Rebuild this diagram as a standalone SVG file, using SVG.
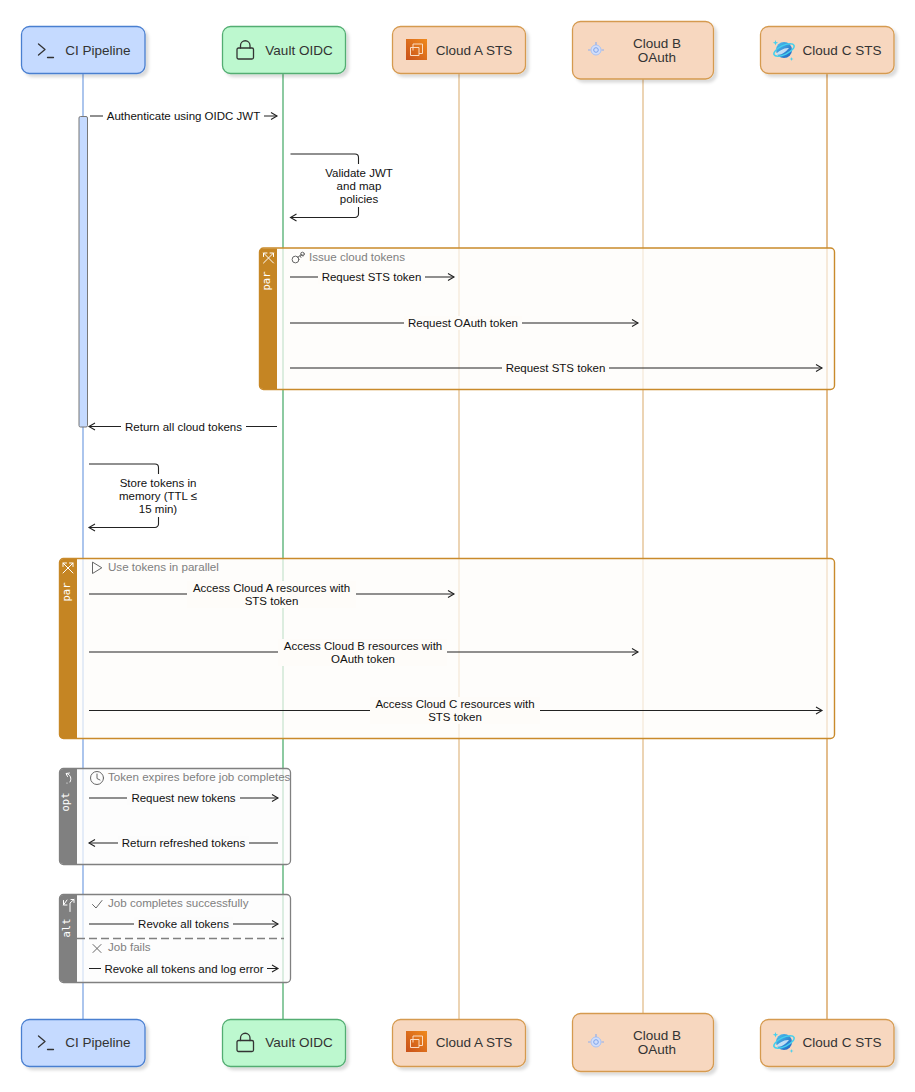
<svg xmlns="http://www.w3.org/2000/svg" width="915" height="1092" viewBox="0 0 915 1092">
<style>
text{font-family:"Liberation Sans",Arial,sans-serif}
.n{font-size:13.5px;fill:#333;text-anchor:middle}
.m{font-size:11.5px;fill:#111;text-anchor:middle}
.f{font-size:11.6px;fill:#808080}
.tab{font-family:"DejaVu Sans Mono","Liberation Mono",monospace;font-size:10.5px;fill:#fff;text-anchor:middle}
.box{stroke-width:1.3}
.blue{fill:#c5daff;stroke:#4a7fd0}
.green{fill:#bdf8cf;stroke:#52ad72}
.orange{fill:#f7d7bf;stroke:#d59a4f}
.ll{fill:none;stroke-width:1.3}
.msg{fill:none;stroke:#222;stroke-width:1.1}
.ico{fill:none;stroke:#333;stroke-width:1.3;stroke-linecap:round;stroke-linejoin:round}
.fi{fill:none;stroke:#666;stroke-width:1;stroke-linecap:round;stroke-linejoin:round}
.ti{fill:none;stroke:#fff;stroke-width:1;stroke-linecap:round;stroke-linejoin:round}
.bgp{fill:#fefcf9}
.bgg{fill:#fcfcfc}
</style>
<defs>
<filter id="sh" x="-10%" y="-10%" width="125%" height="130%"><feDropShadow dx="3" dy="3" stdDeviation="1.5" flood-color="#000" flood-opacity="0.14"/></filter>
<marker id="a" markerWidth="10" markerHeight="10" refX="8" refY="5" orient="auto-start-reverse" markerUnits="userSpaceOnUse"><path d="M2 1.500 8 5 2 8.500" fill="none" stroke="#222" stroke-width="1.1"/></marker>
<linearGradient id="aws" x1="0" y1="1" x2="1" y2="0"><stop offset="0" stop-color="#c8511b"/><stop offset="1" stop-color="#f08a1d"/></linearGradient>
<linearGradient id="az" x1="0" y1="0" x2="1" y2="1"><stop offset="0" stop-color="#4fc3f0"/><stop offset="1" stop-color="#1f5fc0"/></linearGradient>
<g id="iTerm"><path class="ico" d="M0 0 6.500 5.500 0 11M9 13.500H15"/></g>
<g id="iLock"><rect class="ico" x="0" y="8" width="16.500" height="11" rx="1.500"/><path class="ico" d="M3.500 8V5.500a4.750 4.750 0 0 1 9.500 0V8"/></g>
<g id="iA"><rect width="21" height="21" fill="url(#aws)"/><path d="M7 11.500V5h9.500v9.500H13M4.500 8.500V16.500h8.500V8.500Z" fill="none" stroke="#fbdcc2" stroke-width="1"/></g>
<g id="iB"><circle cx="9" cy="9" r="5" fill="#d2defa" stroke="#a9c3f5"/><circle cx="9" cy="9" r="2.300" fill="none" stroke="#7da3ea"/><path d="M9 1V4M1 9H3.500M14.500 9H17" stroke="#8fb0ef" stroke-width="1.200"/></g>
<g id="iC"><circle cx="10" cy="10" r="8" fill="url(#az)"/><ellipse cx="10" cy="10" rx="11" ry="4.500" transform="rotate(-25 10 10)" fill="none" stroke="#44d0ee" stroke-width="1.500"/><path d="M2 14c4 2 9-1 13-6-4 0-8 1-13 6Z" fill="#fff" opacity=".7"/><path d="M1.500 0l.7 2 2 .7-2 .7-.7 2-.7-2-2-.7 2-.7ZM17.500 17l.5 1.500 1.500.5-1.500.5-.5 1.500-.5-1.500-1.500-.5 1.500-.5Z" fill="#44d0ee"/></g>
<g id="iX"><path class="ti" d="M1 1 11 11M1 11 11 1M1 4.500V1H4.500M7.500 1H11V4.500"/></g>
</defs>

<g id="lifelines">
<path class="ll" stroke="#7fa6e4" d="M83 73V1019"/>
<path class="ll" stroke="#4fae6f" d="M283 73V1019"/>
<path class="ll" stroke="#e2bd8c" d="M459 73V1019"/>
<path class="ll" stroke="#e2bd8c" d="M643 79V1013"/>
<path class="ll" stroke="#d59a4f" d="M827 73V1019"/>
</g>

<g id="frame-issue">
<rect x="259.500" y="248" width="575" height="141.500" rx="4" fill="#fefcf9" fill-opacity=".7" stroke="#c98a2b" stroke-width="1.400"/>
<path d="M277 248.500H263.500a4 4 0 0 0-4 4V385a4 4 0 0 0 4 4H277Z" fill="#c58523"/>
<use href="#iX" x="262.500" y="252"/>
<text class="tab" transform="translate(270,281) rotate(-90)">par</text>
<path class="fi" d="M297.500 257.500l4-3M300 256l1 1.500M302 254.500l1 1.500"/><circle class="fi" cx="295.500" cy="259.500" r="3.400"/><circle class="fi" cx="302.500" cy="254" r="1.800"/>
<text class="f" x="309" y="260.500">Issue cloud tokens</text>
</g>
<g id="frame-use">
<rect x="59.500" y="558.500" width="775" height="180" rx="4" fill="#fefcf9" fill-opacity=".7" stroke="#c98a2b" stroke-width="1.400"/>
<path d="M77 559H63.500a4 4 0 0 0-4 4V734.500a4 4 0 0 0 4 4H77Z" fill="#c58523"/>
<use href="#iX" x="62" y="562"/>
<text class="tab" transform="translate(69.500,592) rotate(-90)">par</text>
<path class="fi" d="M92.500 562.500V573.500L101.500 568Z"/>
<text class="f" x="108" y="570.500">Use tokens in parallel</text>
</g>
<g id="frame-expire">
<rect x="59.500" y="768.500" width="231" height="96" rx="4" fill="#fcfcfc" fill-opacity=".7" stroke="#808080" stroke-width="1.300"/>
<path d="M77 769H63.500a4 4 0 0 0-4 4V860a4 4 0 0 0 4 4H77Z" fill="#808080"/>
<path class="ti" d="M66.500 773.500c4 1 5.500 5 3.500 8.500M69.500 773l-3.500.5 1.500 3"/><circle cx="67" cy="783" r=".6" fill="#fff"/>
<text class="tab" transform="translate(69,802) rotate(-90)">opt</text>
<circle class="fi" cx="97" cy="778" r="6.500"/><path class="fi" d="M97 774V778.500L100 780"/>
<text class="f" x="108" y="781">Token expires before job completes</text>
</g>
<g id="frame-job">
<rect x="59.500" y="894.500" width="231" height="88" rx="4" fill="#fcfcfc" fill-opacity=".7" stroke="#808080" stroke-width="1.300"/>
<path d="M77 895H63.500a4 4 0 0 0-4 4V978a4 4 0 0 0 4 4H77Z" fill="#808080"/>
<path class="ti" d="M63.500 905 67 900M63.500 900.500V905H67M74 899.500 70 903V911.500M71 899.500H74V902.500"/>
<text class="tab" transform="translate(69.500,928) rotate(-90)">alt</text>
<path d="M77 938.500H284" fill="none" stroke="#808080" stroke-width="1.300" stroke-dasharray="8 4"/>
<path class="fi" d="M92.500 904.500 96 908 102 900.500"/>
<text class="f" x="108" y="906.500">Job completes successfully</text>
<path class="fi" d="M93 944.500 101 952.500M101 944.500 93 952.500"/>
<text class="f" x="108" y="951">Job fails</text>
</g>

<g id="activation"><rect x="79" y="116.500" width="8.500" height="310.500" rx="1.500" fill="#c5daff" stroke="#777" stroke-width="1"/></g>

<g id="connectors">
<path class="msg" marker-end="url(#a)" d="M90 116H277"/>
<rect fill="#fff" x="103" y="109" width="161" height="14"/>
<text class="m" x="183.500" y="120">Authenticate using OIDC JWT</text>

<path class="msg" marker-end="url(#a)" d="M290.500 154H355a3.500 3.500 0 0 1 3.500 3.500V214a3.500 3.500 0 0 1-3.500 3.500H290.500"/>
<rect fill="#fff" x="321" y="164" width="75" height="43"/>
<text class="m" x="359" y="176.500">Validate JWT</text>
<text class="m" x="359" y="189.500">and map</text>
<text class="m" x="359" y="202.500">policies</text>

<path class="msg" marker-end="url(#a)" d="M290 277H454"/>
<rect class="bgp" x="318" y="270" width="107" height="14"/>
<text class="m" x="371.500" y="281">Request STS token</text>
<path class="msg" marker-end="url(#a)" d="M290 323H638"/>
<rect class="bgp" x="404" y="316" width="118" height="14"/>
<text class="m" x="463" y="327">Request OAuth token</text>
<path class="msg" marker-end="url(#a)" d="M290 368H822"/>
<rect class="bgp" x="502" y="361" width="107" height="14"/>
<text class="m" x="555.500" y="372">Request STS token</text>

<path class="msg" marker-end="url(#a)" d="M277 426.500H89"/>
<rect fill="#fff" x="121" y="419" width="125" height="14"/>
<text class="m" x="183.500" y="430.500">Return all cloud tokens</text>

<path class="msg" marker-end="url(#a)" d="M89 464H155a3.500 3.500 0 0 1 3.500 3.500V524a3.500 3.500 0 0 1-3.500 3.500H89"/>
<rect fill="#fff" x="112" y="474" width="92" height="43"/>
<text class="m" x="158" y="487">Store tokens in</text>
<text class="m" x="158" y="500">memory (TTL ≤</text>
<text class="m" x="158" y="513">15 min)</text>

<path class="msg" marker-end="url(#a)" d="M89 594H454"/>
<rect class="bgp" x="187" y="581" width="169" height="27"/>
<text class="m" x="271.500" y="592">Access Cloud A resources with</text>
<text class="m" x="271.500" y="604.500">STS token</text>
<path class="msg" marker-end="url(#a)" d="M89 652H638"/>
<rect class="bgp" x="278" y="639" width="169" height="27"/>
<text class="m" x="363" y="650">Access Cloud B resources with</text>
<text class="m" x="363" y="662.500">OAuth token</text>
<path class="msg" marker-end="url(#a)" d="M89 710.500H822"/>
<rect class="bgp" x="370" y="697" width="170" height="27"/>
<text class="m" x="455" y="708">Access Cloud C resources with</text>
<text class="m" x="455" y="720.500">STS token</text>

<path class="msg" marker-end="url(#a)" d="M89 798H278"/>
<rect class="bgg" x="127" y="791" width="113" height="14"/>
<text class="m" x="183.500" y="802">Request new tokens</text>
<path class="msg" marker-end="url(#a)" d="M278 843H89"/>
<rect class="bgg" x="118" y="836" width="131" height="14"/>
<text class="m" x="183.500" y="847">Return refreshed tokens</text>
<path class="msg" marker-end="url(#a)" d="M89 924H278"/>
<rect class="bgg" x="134" y="917" width="99" height="14"/>
<text class="m" x="183.500" y="928">Revoke all tokens</text>
<path class="msg" marker-end="url(#a)" d="M89 968.500H278"/>
<rect class="bgg" x="101" y="961.500" width="166" height="14"/>
<text class="m" x="184" y="972.500">Revoke all tokens and log error</text>
</g>

<g id="ci-top"><rect class="box blue" x="21.500" y="26.500" width="123.500" height="47" rx="8" filter="url(#sh)"/><use href="#iTerm" x="38.500" y="44"/><text class="n" x="98" y="55">CI Pipeline</text></g>
<g id="vault-top"><rect class="box green" x="222.500" y="26.500" width="123" height="47" rx="8" filter="url(#sh)"/><use href="#iLock" x="237" y="40"/><text class="n" x="299" y="55">Vault OIDC</text></g>
<g id="clouda-top"><rect class="box orange" x="392.500" y="26.500" width="133" height="47" rx="8" filter="url(#sh)"/><use href="#iA" x="406" y="39"/><text class="n" x="474" y="55">Cloud A STS</text></g>
<g id="cloudb-top"><rect class="box orange" x="572.500" y="21.500" width="141" height="57.500" rx="8" filter="url(#sh)"/><use href="#iB" x="587" y="41"/><text class="n" x="657" y="47.500">Cloud B</text><text class="n" x="657" y="62">OAuth</text></g>
<g id="cloudc-top"><rect class="box orange" x="760.500" y="26.500" width="133.500" height="47" rx="8" filter="url(#sh)"/><use href="#iC" x="774" y="40"/><text class="n" x="842" y="55">Cloud C STS</text></g>

<g id="ci-bottom"><rect class="box blue" x="21.500" y="1019.500" width="123.500" height="47" rx="8" filter="url(#sh)"/><use href="#iTerm" x="38.500" y="1036"/><text class="n" x="98" y="1047">CI Pipeline</text></g>
<g id="vault-bottom"><rect class="box green" x="222.500" y="1019.500" width="123" height="47" rx="8" filter="url(#sh)"/><use href="#iLock" x="237" y="1032.500"/><text class="n" x="299" y="1047">Vault OIDC</text></g>
<g id="clouda-bottom"><rect class="box orange" x="392.500" y="1019.500" width="133" height="47" rx="8" filter="url(#sh)"/><use href="#iA" x="406" y="1031"/><text class="n" x="474" y="1047">Cloud A STS</text></g>
<g id="cloudb-bottom"><rect class="box orange" x="572.500" y="1013.500" width="141" height="58" rx="8" filter="url(#sh)"/><use href="#iB" x="587" y="1033"/><text class="n" x="657" y="1039.500">Cloud B</text><text class="n" x="657" y="1054">OAuth</text></g>
<g id="cloudc-bottom"><rect class="box orange" x="760.500" y="1019.500" width="133.500" height="47" rx="8" filter="url(#sh)"/><use href="#iC" x="774" y="1032"/><text class="n" x="842" y="1047">Cloud C STS</text></g>
</svg>
